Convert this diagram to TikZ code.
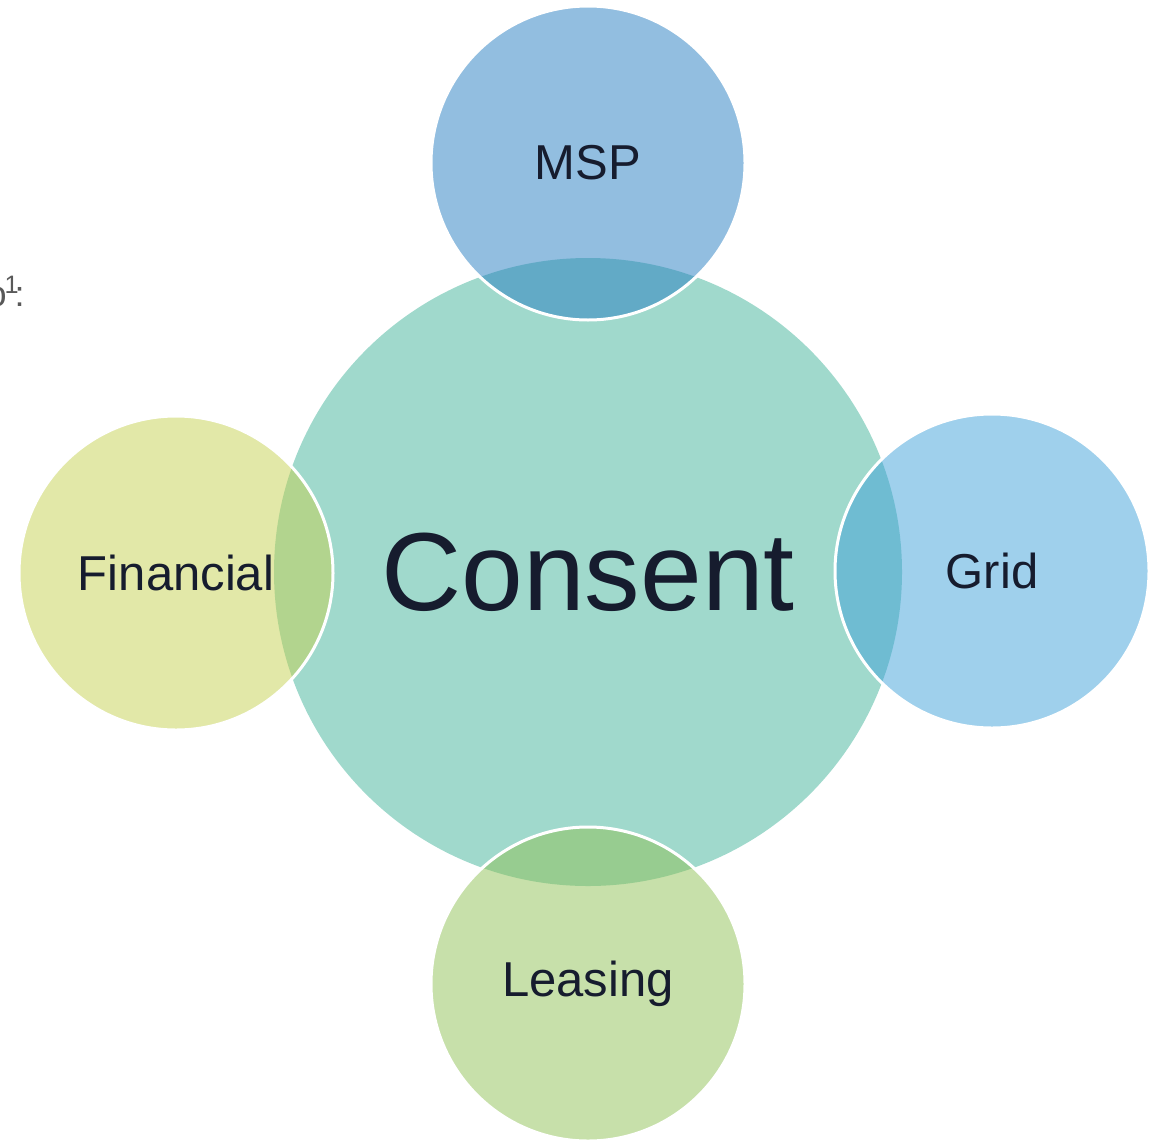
\documentclass[tikz,border=0pt]{standalone}
\usepackage{fontspec}
\setmainfont{Liberation Sans}
\definecolor{consentfill}{RGB}{160,217,204}
\definecolor{mspfill}{RGB}{37,125,193}
\definecolor{financefill}{RGB}{197,209,81}
\definecolor{gridfill}{RGB}{63,161,217}
\definecolor{leasefill}{RGB}{143,193,85}
\definecolor{labeltext}{RGB}{22,28,46}

\begin{document}
\begin{tikzpicture}[x=0.5pt,y=-0.5pt,
		bubble/.style={circle, minimum size=157pt, inner sep=0pt, draw=white, line width=1.5pt,
			fill opacity=0.5, text opacity=1, text=labeltext, font=\fontsize{24.5}{28}\selectfont}]
		\useasboundingbox (0,0) rectangle (1160,1140);
		\node[circle, minimum size=314pt, inner sep=0pt, fill=consentfill, text=labeltext,
			font=\fontsize{55.5}{60}\selectfont] (consent) at (588,572) {Consent};
		\node[bubble, fill=mspfill] (msp) at (588,163) {MSP};
		\node[bubble, fill=financefill] (financial) at (176,573) {Financial};
		\node[bubble, fill=gridfill] (grid) at (992,571) {Grid};
		\node[bubble, fill=leasefill] (leasing) at (588,984) {Leasing};
		\node[anchor=base east, inner sep=0pt, text=black!65, font=\fontsize{18}{20}\selectfont] (note) at (25,306) {o\kern-1pt\textsuperscript{1}\kern-2.5pt:};
	\end{tikzpicture}
\end{document}
